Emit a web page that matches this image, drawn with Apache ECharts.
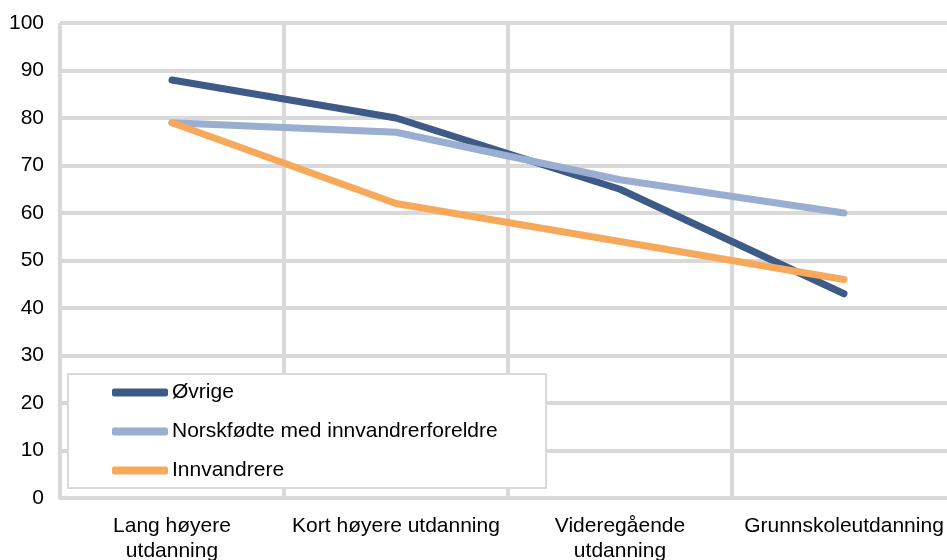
<!DOCTYPE html>
<html style="height: 100%">
<head>
<meta charset="utf-8">
<title>Utdanning</title>
</head>
<body style="height: 100%; margin: 0">
<div id="container" style="width:947px;height:560px"></div>
<script type="text/javascript" src="https://cdn.jsdelivr.net/npm/echarts@6/dist/echarts.min.js"></script>
<script type="text/javascript">
var categories = ['Lang høyere\nutdanning', 'Kort høyere utdanning', 'Videregående\nutdanning', 'Grunnskoleutdanning'];
var ovrige = [88, 80, 65, 43];
var norskfodte = [79, 77, 67, 60];
var innvandrere = [79, 62, 54, 46];
var yTicks = [0, 10, 20, 30, 40, 50, 60, 70, 80, 90, 100];

var font = 'Liberation Sans, Arial, sans-serif';
var gridColor = '#d9d9d9';

var dom = document.getElementById('container');
var myChart = echarts.init(dom);

function lineSeries(name, data, color) {
    return {
        name: name,
        type: 'line',
        data: data,
        symbol: 'none',
        lineStyle: { color: color, width: 7, cap: 'round', join: 'round' },
        itemStyle: { color: color },
        z: 3
    };
}

var option = {
    animation: false,
    textStyle: { fontFamily: font },
    grid: { left: 60, top: 23, width: 896, bottom: 62, containLabel: false, outerBoundsMode: 'none' },
    xAxis: {
        type: 'category',
        data: categories,
        boundaryGap: true,
        axisLine: { show: true, lineStyle: { color: gridColor, width: 4 } },
        axisTick: { show: false },
        axisLabel: { interval: 0, color: '#000', fontSize: 21, fontFamily: font, margin: 16, lineHeight: 25 },
        splitLine: { show: true, interval: 0, lineStyle: { color: gridColor, width: 4 } }
    },
    yAxis: {
        type: 'value',
        min: yTicks[0],
        max: yTicks[yTicks.length - 1],
        interval: 10,
        axisLine: { show: false },
        axisTick: { show: false },
        axisLabel: { color: '#000', fontSize: 21, fontFamily: font, margin: 16 },
        splitLine: { show: true, lineStyle: { color: gridColor, width: 4 } }
    },
    legend: {
        orient: 'vertical',
        left: 107,
        top: 377,
        itemWidth: 56,
        itemHeight: 8,
        itemGap: 18,
        icon: 'roundRect',
        textStyle: { color: '#000', fontSize: 21, fontFamily: font, padding: [0, 0, 0, -1] },
        data: ['Øvrige', 'Norskfødte med innvandrerforeldre', 'Innvandrere'],
        z: 10
    },
    graphic: [{
        type: 'rect',
        shape: { x: 68, y: 374, width: 478, height: 114 },
        style: { fill: '#fff', stroke: gridColor, lineWidth: 2 },
        z: 5
    }],
    series: [
        lineSeries('Øvrige', ovrige, '#3e5a86'),
        lineSeries('Norskfødte med innvandrerforeldre', norskfodte, '#9aaed2'),
        lineSeries('Innvandrere', innvandrere, '#f7a95b')
    ]
};
myChart.setOption(option);
</script>
</body>
</html>
